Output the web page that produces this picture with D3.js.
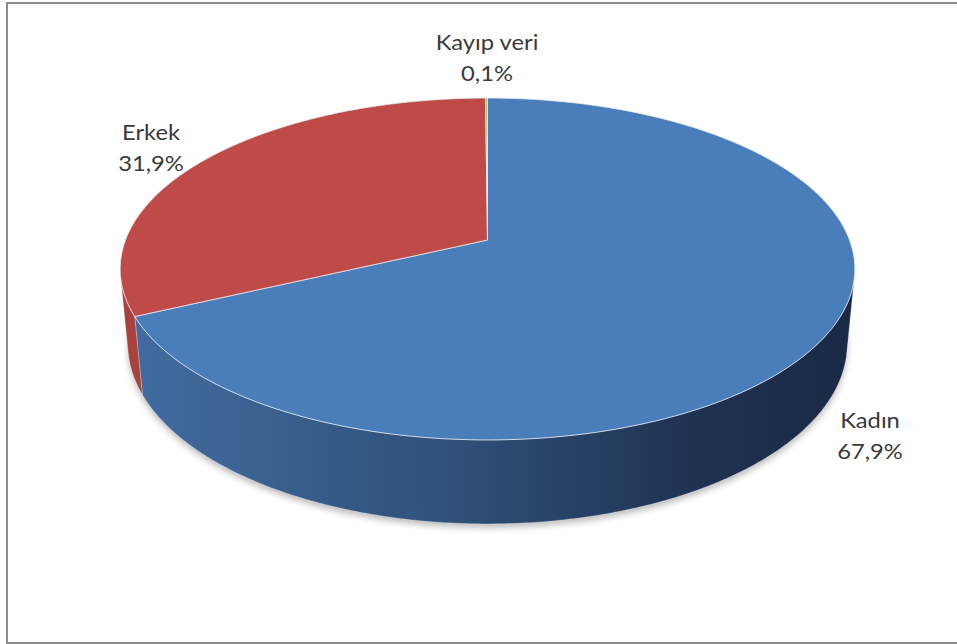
<!DOCTYPE html>
<html>
<head>
<meta charset="utf-8">
<script src="https://cdn.jsdelivr.net/npm/d3@7"></script>
<style>
  html, body { margin: 0; padding: 0; background: #fff; }
  svg { display: block; }
</style>
</head>
<body>
<svg id="chart" width="957" height="644"></svg>
<script>
// Gender distribution (percent)
const categories = ["Kadın", "Erkek", "Kayıp veri"];
const values = [67.9, 31.9, 0.1];
const topColors = ["#4A7EBB", "#BE4B48", "#9BBB59"];
const wallColors = [
  ["#426DA1", "#2F5079", "#1F3352", "#1A2A44"],
  ["#A9423F", "#9A3B38", "#7E302D", "#6E2926"],
  ["#8AA84E", "#7A9545", "#62773A", "#556833"]
];

const W = 957, H = 644;
const svg = d3.select("#chart");

// Perspective projection of a disc of unit radius
const cx = 487.5, cy = 240;       // screen position of the disc centre
const S = 362;                    // screen scale of the radius
const phi = 27.3 * Math.PI / 180; // viewing elevation
const k = 0.1907;                 // radius / camera distance
const tau = 0.235;                // disc thickness / radius
const cphi = Math.cos(phi), sphi = Math.sin(phi);

function project(theta, h, r = 1) {
  const X = r * Math.sin(theta), Z = -r * Math.cos(theta), Y = h;
  const yv = Y * cphi - Z * sphi;
  const zv = Z * cphi + Y * sphi;
  const sc = 1 / (1 - k * zv);
  return [cx + S * X * sc, cy - S * yv * sc];
}

// Outer wall faces the camera where cos(theta) < -k / cos(phi)
const cLim = -k / cphi;
const visLo = Math.acos(cLim);
const visHi = 2 * Math.PI - visLo;

function arcPoints(a0, a1, h) {
  const n = Math.max(2, Math.ceil(Math.abs(a1 - a0) / (Math.PI / 360)));
  return d3.range(n + 1).map(i => project(a0 + (a1 - a0) * i / n, h));
}

const pie = d3.pie().sort(null).value(d => d.value);
const arcs = pie(categories.map((c, i) => ({ name: c, value: values[i], i })));

const line = d3.line();
const defs = svg.append("defs");

// soft drop shadow under the disc
const blur = defs.append("filter").attr("id", "shadowBlur")
  .attr("x", "-10%").attr("y", "-10%").attr("width", "120%").attr("height", "130%");
blur.append("feGaussianBlur").attr("stdDeviation", 3);

// horizontal shading across the side wall
wallColors.forEach((cols, i) => {
  const g = defs.append("linearGradient").attr("id", "wall" + i)
    .attr("gradientUnits", "userSpaceOnUse")
    .attr("x1", cx - S).attr("x2", cx + S).attr("y1", 0).attr("y2", 0);
  [0, 0.45, 0.78, 1].forEach((o, j) =>
    g.append("stop").attr("offset", o).attr("stop-color", cols[j]));
});

// frame
svg.append("rect")
  .attr("x", 7).attr("y", 3).attr("width", W).attr("height", H - 4)
  .attr("fill", "none").attr("stroke", "#8c8c8c").attr("stroke-width", 2);

// shadow
const bottomRing = arcPoints(0, 2 * Math.PI, -tau);
svg.append("path")
  .attr("d", line(bottomRing) + "Z")
  .attr("transform", "translate(0,4)")
  .attr("fill", "#8a8a8a").attr("opacity", 0.55)
  .attr("filter", "url(#shadowBlur)");

// side walls
const wallLayer = svg.append("g");
arcs.forEach(a => {
  const lo = Math.max(a.startAngle, visLo), hi = Math.min(a.endAngle, visHi);
  if (hi <= lo) return;
  const pts = arcPoints(lo, hi, 0).concat(arcPoints(hi, lo, -tau));
  wallLayer.append("path")
    .attr("d", line(pts) + "Z")
    .attr("fill", `url(#wall${a.data.i})`)
    .attr("stroke", "rgba(255,255,255,0.35)").attr("stroke-width", 0.8)
    .attr("stroke-linejoin", "round");
});

// top faces
const topLayer = svg.append("g");
arcs.forEach(a => {
  const pts = [project(0, 0, 0)].concat(arcPoints(a.startAngle, a.endAngle, 0));
  topLayer.append("path")
    .attr("d", line(pts) + "Z")
    .attr("fill", topColors[a.data.i])
    .attr("stroke", "rgba(235,240,248,0.75)").attr("stroke-width", 1)
    .attr("stroke-linejoin", "round");
});

// data labels
const fmt = d3.formatLocale({ decimal: ",", thousands: ".", grouping: [3], currency: ["", "₺"] }).format(".1f");
const labelPos = { "Kadın": [870, 428], "Erkek": [151, 140], "Kayıp veri": [487, 50] };
const stretch = 1.08;
const labelLayer = svg.append("g")
  .attr("font-family", "Lato, 'Open Sans', sans-serif")
  .attr("font-size", 22).attr("fill", "#3a3a3a").attr("text-anchor", "middle");
arcs.forEach(a => {
  const [x, y] = labelPos[a.data.name];
  const t = labelLayer.append("text").attr("transform", `translate(${x},${y}) scale(${stretch},1)`);
  t.append("tspan").attr("x", 0).attr("y", 0).text(a.data.name);
  t.append("tspan").attr("x", 0).attr("y", 31).text(fmt(a.data.value) + "%");
});
</script>
</body>
</html>
